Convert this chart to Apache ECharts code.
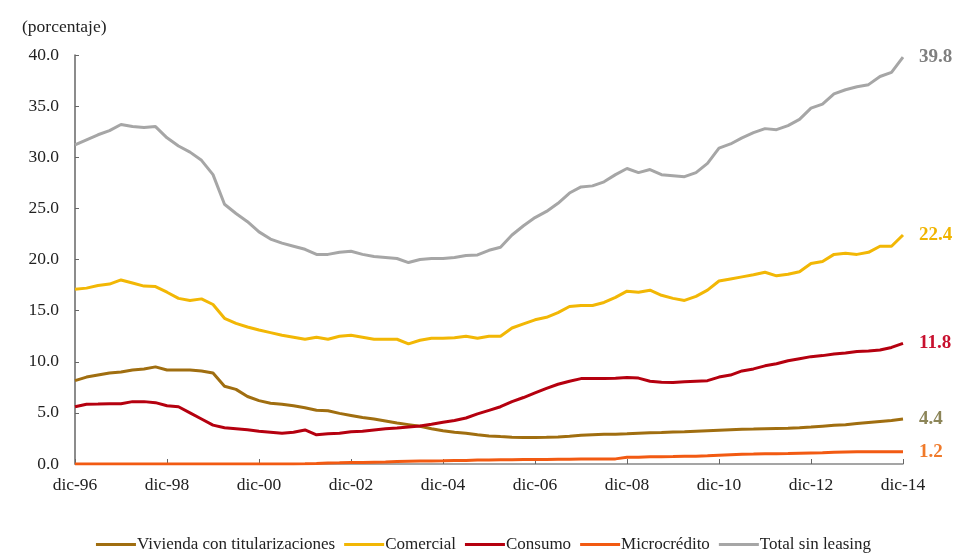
<!DOCTYPE html>
<html>
<head>
<meta charset="utf-8">
<script src="https://cdn.jsdelivr.net/npm/echarts@6/dist/echarts.min.js"></script>
<style>html,body{margin:0;padding:0;background:#fff;}#c{width:967px;height:554px;}</style>
</head>
<body>
<div id="c"></div>
<script>
var months = ['mar', 'jun', 'sep', 'dic'];
var years = ['96','97','98','99','00','01','02','03','04','05','06','07','08','09','10','11','12','13','14'];
var categories = ['dic-96'];
for (var y = 1; y < years.length; y++) {
  for (var m = 0; m < 4; m++) categories.push(months[m] + '-' + years[y]);
}

var vivienda = [8.15,8.5,8.7,8.9,9.0,9.2,9.3,9.5,9.2,9.2,9.2,9.1,8.9,7.6,7.3,6.6,6.2,5.95,5.85,5.7,5.5,5.25,5.2,4.95,4.75,4.55,4.4,4.2,4.0,3.85,3.7,3.45,3.25,3.1,3.0,2.85,2.75,2.68,2.62,2.6,2.6,2.62,2.65,2.72,2.8,2.85,2.9,2.92,2.95,3.0,3.05,3.08,3.12,3.15,3.2,3.25,3.3,3.35,3.4,3.42,3.45,3.48,3.5,3.55,3.62,3.7,3.78,3.85,3.95,4.05,4.15,4.25,4.4];
var comercial = [17.1,17.2,17.45,17.6,18.0,17.7,17.4,17.35,16.8,16.2,16.0,16.15,15.6,14.25,13.75,13.4,13.1,12.85,12.6,12.4,12.2,12.4,12.2,12.5,12.6,12.4,12.2,12.2,12.2,11.75,12.1,12.3,12.3,12.35,12.5,12.3,12.5,12.5,13.3,13.7,14.1,14.35,14.8,15.4,15.5,15.5,15.8,16.3,16.9,16.8,17.0,16.5,16.2,16.0,16.4,17.0,17.9,18.1,18.3,18.5,18.75,18.4,18.55,18.8,19.6,19.8,20.5,20.6,20.5,20.7,21.3,21.3,22.4];
var consumo = [5.6,5.85,5.87,5.9,5.9,6.1,6.1,6.0,5.7,5.6,5.0,4.4,3.8,3.55,3.45,3.35,3.2,3.1,3.0,3.1,3.33,2.85,2.95,3.0,3.15,3.2,3.33,3.45,3.52,3.62,3.72,3.88,4.08,4.25,4.5,4.9,5.25,5.6,6.1,6.5,6.95,7.4,7.8,8.1,8.35,8.35,8.35,8.38,8.45,8.4,8.1,8.0,7.98,8.05,8.1,8.15,8.5,8.7,9.1,9.3,9.6,9.8,10.1,10.3,10.5,10.6,10.75,10.85,11.0,11.05,11.15,11.4,11.8];
var microcredito = [0,0,0,0,0,0,0,0,0,0,0,0,0,0,0,0,0,0,0,0,0.02,0.05,0.1,0.12,0.15,0.15,0.18,0.2,0.25,0.28,0.3,0.3,0.32,0.35,0.35,0.38,0.4,0.42,0.42,0.45,0.45,0.45,0.47,0.47,0.48,0.48,0.48,0.5,0.65,0.67,0.7,0.72,0.73,0.75,0.77,0.8,0.85,0.9,0.95,0.97,1.0,1.0,1.02,1.05,1.08,1.1,1.15,1.18,1.2,1.2,1.2,1.2,1.2];
var total = [31.2,31.7,32.2,32.6,33.2,33.0,32.9,33.0,31.9,31.1,30.5,29.7,28.3,25.4,24.5,23.7,22.7,22.0,21.6,21.3,21.0,20.5,20.5,20.7,20.8,20.5,20.3,20.2,20.1,19.7,20.0,20.1,20.1,20.2,20.4,20.45,20.9,21.2,22.4,23.3,24.1,24.7,25.5,26.5,27.1,27.2,27.6,28.3,28.9,28.5,28.8,28.3,28.2,28.1,28.5,29.4,30.9,31.3,31.9,32.4,32.8,32.7,33.1,33.7,34.8,35.2,36.2,36.6,36.9,37.1,37.9,38.3,39.8];

var seriesNames = ['Vivienda con titularizaciones','Comercial','Consumo','Microcrédito','Total sin leasing'];
var seriesData = [vivienda, comercial, consumo, microcredito, total];
var colors = ['#A06E10','#F2B705','#B5000F','#F25A12','#A6A6A6'];
var labelColors = ['#8C8558','#F0B400','#C8102E','#F07A2A','#7F7F7F'];
var FONT = '"Liberation Serif","Times New Roman",serif';

var chart = echarts.init(document.getElementById('c'));
chart.setOption({
  backgroundColor: '#ffffff',
  animation: false,
  color: colors,
  textStyle: { fontFamily: FONT },
  graphic: [{
    type: 'text', left: 22, top: 18,
    style: { text: '(porcentaje)', font: '17.5px ' + FONT, fill: '#222' }
  }],
  legend: {
    top: 531, left: 'center',
    icon: 'rect', itemWidth: 40, itemHeight: 3, itemGap: 9,
    textStyle: { fontFamily: FONT, fontSize: 17, color: '#222', padding: [0,0,0,-4] },
    data: seriesNames
  },
  grid: { left: 75, right: 64, top: 55, bottom: 90 },
  xAxis: {
    type: 'category',
    data: categories,
    boundaryGap: false,
    axisLine: { lineStyle: { color: '#888', width: 1.5 } },
    axisTick: { inside: true, interval: 7, length: 5, lineStyle: { color: '#666' } },
    axisLabel: { interval: 7, fontFamily: FONT, fontSize: 17.5, color: '#222', margin: 12 },
    splitLine: { show: false }
  },
  yAxis: {
    type: 'value', min: 0, max: 40, interval: 5,
    axisLine: { show: true, lineStyle: { color: '#666', width: 1.5 } },
    axisTick: { show: true, inside: true, length: 4, lineStyle: { color: '#666' } },
    axisLabel: { fontFamily: FONT, fontSize: 17.5, color: '#222', margin: 16,
      formatter: function (v) { return v.toFixed(1); } },
    splitLine: { show: false }
  },
  series: seriesNames.map(function (n, k) {
    return {
      name: n, type: 'line', data: seriesData[k],
      showSymbol: false, symbol: 'none',
      lineStyle: { width: 3, color: colors[k] },
      itemStyle: { color: colors[k] },
      z: k === 3 ? 5 : 3,
      endLabel: {
        show: true, distance: 16,
        formatter: function (p) { return p.value.toFixed(1); },
        fontFamily: FONT, fontSize: 19, fontWeight: 'bold', color: labelColors[k]
      }
    };
  })
});
</script>
</body>
</html>
